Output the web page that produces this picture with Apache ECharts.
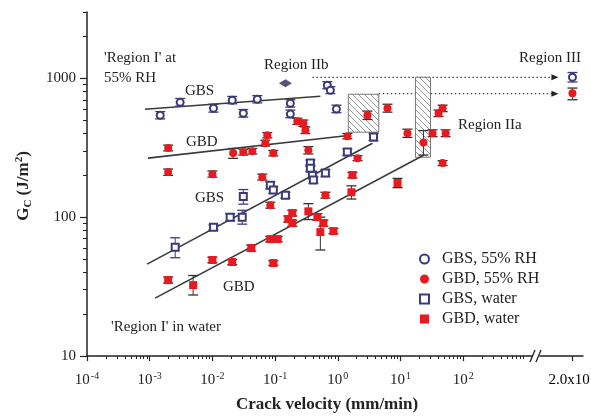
<!DOCTYPE html>
<html><head><meta charset="utf-8">
<script src="https://cdn.jsdelivr.net/npm/echarts@6/dist/echarts.min.js"></script>
<style>html,body{margin:0;padding:0;background:#fff}#c{width:591px;height:417px}</style>
</head><body><div id="c"></div>
<script>
// ---- data: [crack velocity (mm/min), Gc (J/m2), lower, upper]
const gbs55 = [
  [0.00147,542,510,575],[0.00306,671,630,715],[0.0104,608,570,650],[0.0207,695,655,740],
  [0.0311,560,525,595],[0.052,706,665,750],[0.175,660,620,700],[0.175,552,520,590],
  [0.68,890,840,945],[0.76,820,775,870],[0.95,600,565,640]
];
const gbd55 = [
  [0.00197,314,300,330],[0.00197,211,200,222],[0.0100,204,194,215],[0.0214,289,265,312],
  [0.0311,294,280,308],[0.0433,298,285,312],[0.0697,341,325,358],[0.075,389,372,406],
  [0.0625,194,185,204],[0.0936,289,276,302],[0.226,490,465,515],[0.282,474,450,500],
  [0.304,423,400,446],[0.339,303,285,322],[0.0838,122,116,128],[0.634,144,137,151],
  [1.42,383,366,400],[2.97,542,505,580],[6.2,608,570,650],[12.9,402,375,430],
  [23.2,345,280,420],[32.4,402,380,425],[52.4,402,380,425],[40.4,560,530,590],
  [46.9,608,575,640],[46.9,245,235,255],[2.06,266,255,277]
];
const gbsWater = [
  [0.00255,60.8,51,71],[0.0104,84.7,81,88],[0.0192,100,94,106],[0.0311,141,124,158],
  [0.0299,100,89,112],[0.0838,170,160,180],[0.0936,157,148,166],[0.146,144,137,151],
  [0.393,201,190,212],[0.408,185,175,195],[0.634,208,196,220],[0.365,245,232,258],
  [0.365,225,213,237],[1.42,294,278,310],[3.71,377,355,400]
];
const gbdWater = [
  [0.00197,35.2,33.5,37],[0.00493,32.4,27.5,38],[0.0100,49.1,47,51.5],[0.0207,47.5,45.5,49.5],
  [0.0417,59.8,57,63],[0.0838,69.5,66.5,72.5],[0.110,69.5,66.5,72.5],[0.0936,46.7,45,48.5],
  [0.162,97,92,102],[0.188,107,102,112],[0.188,90.6,86,95],[0.339,110,96,125],
  [0.472,100,95,106],[0.589,90.6,86,95],[0.527,78,58,100],[0.851,79.3,76,83],
  [1.65,151,135,168],[1.71,201,192,210],[8.96,176,163,190]
];
const regionIIIGbs55 = [[20000,1016,940,1100]];
const regionIIIGbd55 = [[20000,780,700,850]];
const regionIIbPoint = [[0.146,920]];
// fitted lines (end points)
const gbs55Fit = [[0.00084,598],[0.527,743]];
const gbd55Fit = [[0.00094,266],[1.59,389]];
const gbsWaterFit = [[0.00091,45.9],[3.57,340]];
const gbdWaterFit = [[0.00122,26.1],[23.3,279]];
// hatched regions: [x1,x2,y1,y2]
const hatchBoxes = [[1.47,4.5,409,767],[17.3,30.1,270,1016]];
// dotted guide lines: start [x,y] in main plot
const guideStarts = [[0.393,1016],[4.5,775]];
const xMajor = [1e-4,1e-3,1e-2,1e-1,1,10,100];
const yMajor = [10,100,1000];
const breakTick = [20000];

const FONT = 'Liberation Serif';
const NAVY = '#3a3a7a', RED = '#e8191f', DARK = '#333';
const yMinor = []; for (const d of [10,100,1000]) for (let k=2;k<=9;k++){ if (d*k<=3000) yMinor.push(d*k); }
const xMinor = []; for (let e=-4;e<=2;e++) for (let k=2;k<=9;k++) xMinor.push(k*Math.pow(10,e));

const pc = document.createElement('canvas'); pc.width=6; pc.height=6;
const g = pc.getContext('2d'); g.fillStyle='#fff'; g.fillRect(0,0,6,6);
g.strokeStyle='#999'; g.lineWidth=1; g.beginPath();
g.moveTo(-1,-1); g.lineTo(7,7); g.moveTo(-1,5); g.lineTo(1,7); g.moveTo(5,-1); g.lineTo(7,1); g.stroke();

const chart = echarts.init(document.getElementById('c'), null, {renderer:'canvas'});

function errSeries(data, color, xi, yi){
  return {type:'custom', xAxisIndex:xi, yAxisIndex:yi, data:data, z:3, silent:true,
    encode:{x:0,y:[1,2,3]},
    renderItem:(p, api)=>{
      const x=api.value(0);
      const lo=api.coord([x,api.value(2)]), hi=api.coord([x,api.value(3)]);
      const w=5;
      return {type:'group', children:[
        {type:'line', shape:{x1:lo[0],y1:lo[1],x2:hi[0],y2:hi[1]}, style:{stroke:color,lineWidth:1}},
        {type:'line', shape:{x1:lo[0]-w,y1:lo[1],x2:lo[0]+w,y2:lo[1]}, style:{stroke:color,lineWidth:1.3}},
        {type:'line', shape:{x1:hi[0]-w,y1:hi[1],x2:hi[0]+w,y2:hi[1]}, style:{stroke:color,lineWidth:1.3}}
      ]};
    }};
}
function scat(name, data, symbol, color, xi, yi, size){
  return {type:'scatter', name:name, xAxisIndex:xi, yAxisIndex:yi, data:data.map(d=>[d[0],d[1]]),
    symbol:symbol, symbolSize:size||7, z:5, silent:true,
    itemStyle:{color:color, borderColor:color, borderWidth: symbol.startsWith('empty')?1.5:0, opacity:1}};
}
function fit(data){
  return {type:'line', xAxisIndex:0, yAxisIndex:0, data:data, symbol:'none', silent:true, z:2,
    lineStyle:{color:'#3a3a3a', width:1.6}};
}
const supRich = {b:{fontSize:15,fontFamily:FONT,color:'#222',lineHeight:18}, s:{fontSize:10,fontFamily:FONT,color:'#222',verticalAlign:'top',lineHeight:18, padding:[0,0,0,1]}};

const yBase = {type:'log', min:10, max:3000, logBase:10, splitLine:{show:false}};
const option = {
  animation:false,
  backgroundColor:'#fff',
  grid:[
    {left:87, right:59, top:12, bottom:61},
    {left:540, right:8, top:12, bottom:61}
  ],
  xAxis:[
    {gridIndex:0, type:'log', min:1e-4, max:1250, splitLine:{show:false},
      axisLine:{lineStyle:{color:'#222',width:1.5}},
      axisTick:{customValues:xMajor, length:5, inside:false, lineStyle:{color:'#222',width:1.2}},
      axisLabel:{customValues:xMajor, margin:15, rich:supRich,
        formatter:v=>'{b|10}{s|'+Math.round(Math.log10(v))+'}'}},
    {gridIndex:0, type:'log', min:1e-4, max:1250, position:'bottom', splitLine:{show:false},
      axisLine:{show:false}, axisLabel:{show:false},
      axisTick:{customValues:xMinor, length:3, lineStyle:{color:'#222',width:1}}},
    {gridIndex:1, type:'value', min:0, max:26500, splitLine:{show:false},
      axisLine:{lineStyle:{color:'#222',width:1.5}},
      axisTick:{customValues:breakTick, length:5, lineStyle:{color:'#222',width:1.2}},
      axisLabel:{show:false}}
  ],
  yAxis:[
    Object.assign({gridIndex:0,
      axisLine:{show:true,lineStyle:{color:'#222',width:1.5}},
      axisTick:{customValues:yMajor, length:7, lineStyle:{color:'#222',width:1.2}},
      axisLabel:{customValues:yMajor, margin:11, fontSize:15, fontFamily:FONT, color:'#222', formatter:v=>String(Math.round(v))}}, yBase),
    Object.assign({gridIndex:0, position:'left', axisLine:{show:false}, axisLabel:{show:false},
      axisTick:{customValues:yMinor, length:4, lineStyle:{color:'#222',width:1}}}, yBase),
    Object.assign({gridIndex:1, show:false}, yBase)
  ],
  legend:{orient:'vertical', left:414, top:246, itemWidth:9, itemHeight:9, itemGap:4,
    textStyle:{fontFamily:FONT, fontSize:16, color:'#222'},
    formatter:n=>'  '+n,
    data:['GBS, 55% RH','GBD, 55% RH','GBS, water','GBD, water']},
  series:[
    {type:'custom', xAxisIndex:0, yAxisIndex:0, data:hatchBoxes, z:1, silent:true,
      encode:{x:[0,1],y:[2,3]},
      renderItem:(p, api)=>{
        const a=api.coord([api.value(0),api.value(3)]), b=api.coord([api.value(1),api.value(2)]);
        return {type:'rect', shape:{x:a[0],y:a[1],width:b[0]-a[0],height:b[1]-a[1]},
          style:{fill:{image:pc,repeat:'repeat'}, stroke:'#777', lineWidth:1}};
      }},
    fit(gbs55Fit), fit(gbd55Fit), fit(gbsWaterFit), fit(gbdWaterFit),
    errSeries(gbs55, NAVY, 0, 0), errSeries(gbsWater, NAVY, 0, 0),
    errSeries(gbd55, DARK, 0, 0), errSeries(gbdWater, DARK, 0, 0),
    errSeries(regionIIIGbs55, NAVY, 2, 2), errSeries(regionIIIGbd55, DARK, 2, 2),
    scat('GBS, 55% RH', gbs55, 'emptyCircle', NAVY, 0, 0, 7),
    scat('GBD, 55% RH', gbd55, 'circle', RED, 0, 0, 8),
    scat('GBS, water', gbsWater, 'emptyRect', NAVY, 0, 0, 7),
    scat('GBD, water', gbdWater, 'rect', RED, 0, 0, 8),
    scat('GBS, 55% RH', regionIIIGbs55, 'emptyCircle', NAVY, 2, 2, 7),
    scat('GBD, 55% RH', regionIIIGbd55, 'circle', RED, 2, 2, 8),
    {type:'scatter', xAxisIndex:0, yAxisIndex:0, data:regionIIbPoint, symbol:'diamond', symbolSize:[13,8],
      itemStyle:{color:'#2a2a55'}, z:5, silent:true}
  ]
};
chart.setOption(option);

const txt = (t, x, y, extra) => Object.assign({type:'text', x:x, y:y, silent:true,
  style:Object.assign({text:t, fontFamily:FONT, fontSize:15, fill:'#222', align:'left', verticalAlign:'middle'}, extra||{})});
const graphics = [
  txt("'Region I' at", 104, 58), txt('55% RH', 104, 78),
  txt('Region IIb', 264, 65), txt('Region III', 519, 58), txt('Region IIa', 458, 125),
  txt('GBS', 185, 91), txt('GBD', 186, 142), txt('GBS', 195, 198), txt('GBD', 223, 287),
  txt("'Region I' in water", 111, 327),
  txt('Crack velocity (mm/min)', 327, 405, {align:'center', fontSize:17, fontWeight:'bold'}),
  {type:'text', x:24, y:186, rotation:Math.PI/2, silent:true,
    style:{text:'G{sub|C} (J/m{sup|2})', fontFamily:FONT, fontSize:17, fontWeight:'bold', fill:'#222', align:'center', verticalAlign:'middle',
      rich:{sub:{fontSize:11,fontWeight:'bold',fontFamily:FONT,verticalAlign:'bottom',lineHeight:20},
            sup:{fontSize:11,fontWeight:'bold',fontFamily:FONT,verticalAlign:'top',lineHeight:20}}}},
  // axis break marks
  {type:'line', silent:true, shape:{x1:530,y1:362,x2:535,y2:350}, style:{stroke:'#222',lineWidth:1.3}},
  {type:'line', silent:true, shape:{x1:536,y1:362,x2:541,y2:350}, style:{stroke:'#222',lineWidth:1.3}}
];
// label of the tick after the axis break
const bt = chart.convertToPixel({xAxisIndex:2, yAxisIndex:2}, [breakTick[0], 10]);
graphics.push({type:'text', x:bt[0]-24, y:bt[1]+24, silent:true,
  style:{text:'{b|2.0x10}{s|4}', rich:supRich, align:'left', verticalAlign:'middle'}});
// dotted guide arrows to Region III
const targets = [regionIIIGbs55[0], regionIIIGbd55[0]];
guideStarts.forEach((s, i)=>{
  const a = chart.convertToPixel({xAxisIndex:0, yAxisIndex:0}, s);
  const t = chart.convertToPixel({xAxisIndex:2, yAxisIndex:2}, [targets[i][0], targets[i][1]]);
  const ex = t[0]-14, y = a[1];
  graphics.push({type:'line', silent:true, shape:{x1:a[0],y1:y,x2:ex-6,y2:y}, style:{stroke:'#444',lineWidth:1.2,lineDash:[1.5,2.5]}});
  graphics.push({type:'polygon', silent:true, shape:{points:[[ex-7,y-3],[ex,y],[ex-7,y+3]]}, style:{fill:'#222'}});
});
chart.setOption({graphic:graphics});
</script></body></html>
